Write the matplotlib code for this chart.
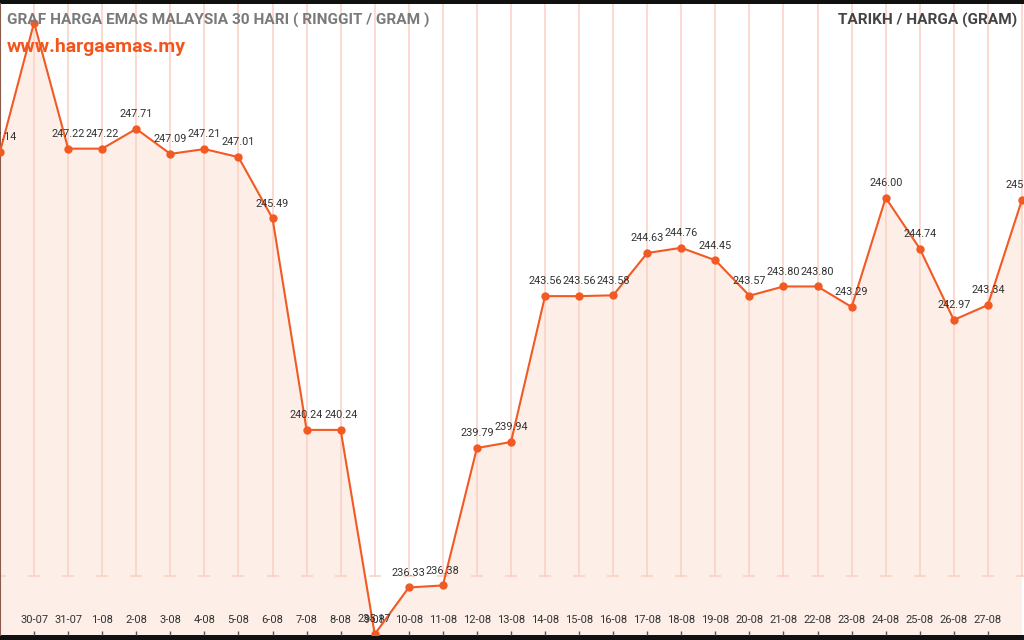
import matplotlib
matplotlib.use("Agg")
import matplotlib.pyplot as plt
import matplotlib.transforms as mtransforms
import numpy as np

plt.rcParams['font.family'] = ['Roboto', 'DejaVu Sans']

# data
dates = ["29-07", "30-07", "31-07", "1-08", "2-08", "3-08", "4-08", "5-08",
         "6-08", "7-08", "8-08", "9-08", "10-08", "11-08", "12-08", "13-08",
         "14-08", "15-08", "16-08", "17-08", "18-08", "19-08", "20-08",
         "21-08", "22-08", "23-08", "24-08", "25-08", "26-08", "27-08", "28-08"]
prices = [247.14, 250.35, 247.22, 247.22, 247.71, 247.09, 247.21, 247.01,
          245.49, 240.24, 240.24, 235.17, 236.33, 236.38, 239.79, 239.94,
          243.56, 243.56, 243.58, 244.63, 244.76, 244.45, 243.57,
          243.80, 243.80, 243.29, 246.00, 244.74, 242.97, 243.34, 245.95]
hidden_labels = ["30-07"]

orange = "#f25a24"
fill_col = "#fdebe4"
grid_col = "#fbcfc2"

fig = plt.figure(figsize=(10.24, 6.4), dpi=100, facecolor="#111111")
ax = fig.add_axes([0, 5/640, 1, 631/640])
ax.set_facecolor("white")

x = np.arange(len(dates))
ax.set_xlim(0, 30.06)
ax.set_ylim(235.15, 250.81)

# vertical grid lines with small caps at the bottom
cap_y = 59/631
trans = mtransforms.blended_transform_factory(ax.transData, ax.transAxes)
for xi in x:
    ax.axvline(xi, ymin=cap_y, ymax=1, color=grid_col, lw=1.1, zorder=1)
ax.plot(x, np.full(len(x), cap_y), ls="none", marker="_", ms=8, mew=1.1,
        color=grid_col, transform=trans, zorder=1)

ax.fill_between(x, prices, 230, color=fill_col, alpha=0.85, lw=0, zorder=0.5)
ax.plot(x, prices, color=orange, lw=1.5, marker="o", ms=5, zorder=3, clip_on=True)

for xi, d, p in zip(x, dates, prices):
    if d in hidden_labels:
        continue
    ax.annotate("{:.2f}".format(p), (xi, p), xytext=(0, 7), textcoords="offset points",
                ha="center", va="bottom", fontsize=7.8, color="#333333",
                annotation_clip=False, clip_on=True, zorder=4)

ax.set_xticks(x[1:-1])
ax.set_xticklabels(dates[1:-1])
ax.tick_params(axis="x", direction="in", length=3, width=1, color="#555555",
               pad=-14.5, labelsize=8, labelcolor="#333333")
ax.set_yticks([])
for s in ["top", "right", "bottom"]:
    ax.spines[s].set_visible(False)
ax.spines["left"].set_color("#8a5a4a")
ax.spines["left"].set_linewidth(1.5)

fig.text(7/1024, 1-20/640, "GRAF HARGA EMAS MALAYSIA 30 HARI ( RINGGIT / GRAM )",
         ha="left", va="center", fontsize=11.1, fontweight="bold", color="#7a7a7a")
fig.text(7/1024, 1-47/640, "www.hargaemas.my", ha="left", va="center",
         fontsize=14, fontweight="bold", color="#f2561d")
fig.text(1017/1024, 1-20/640, "TARIKH / HARGA (GRAM)", ha="right", va="center",
         fontsize=11.1, fontweight="bold", color="#444444")

fig.savefig("out.png", dpi=100, facecolor=fig.get_facecolor())
